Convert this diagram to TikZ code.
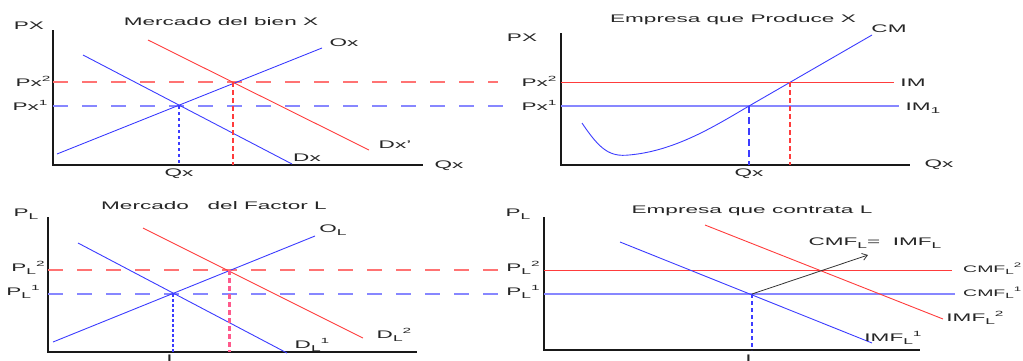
\documentclass[tikz,border=0pt]{standalone}
\usepackage{fontspec}
\setmainfont[FakeStretch=2.05]{Liberation Sans}
\usetikzlibrary{arrows.meta}
\definecolor{lblue}{RGB}{60,60,255}
\definecolor{lred}{RGB}{255,60,60}
\definecolor{dblue}{RGB}{135,135,255}
\definecolor{dred}{RGB}{255,115,115}
\definecolor{pinkc}{RGB}{255,90,140}
\newcommand\lo[1]{\lower0.5ex\hbox{\fontsize{8.5}{8.5}\selectfont #1}}
\newcommand\hi[1]{\raise0.85ex\hbox{\fontsize{7.5}{7.5}\selectfont #1}}
\newcommand\slo[1]{\lower0.5ex\hbox{\fontsize{7.5}{7.5}\selectfont #1}}
\newcommand\shi[1]{\raise0.85ex\hbox{\fontsize{6.5}{6.5}\selectfont #1}}
\begin{document}
\begin{tikzpicture}[x=1pt,y=-1pt,
  lbl/.style={inner sep=0pt, text=black!85, font=\fontsize{11}{13}\selectfont},
  smlbl/.style={inner sep=0pt, text=black!85, font=\fontsize{9.5}{11}\selectfont},
  axisline/.style={line width=2.4pt, black!90},
  curve/.style={line width=0.9pt},
  guide/.style={line width=1.1pt, dash pattern=on 15pt off 14pt},
  solidh/.style={line width=1.1pt}]
\useasboundingbox (0,0) rectangle (1023,360);

% ---------------- Top-left: Mercado del bien X
\coordinate (tlO) at (53,165);
\coordinate (tlY) at (53,30);
\coordinate (tlX) at (423,165);
\coordinate (tlE1) at (179,106);
\coordinate (tlE2) at (233,82);
\draw[axisline] (tlY) -- (tlO) -- (tlX);
\draw[guide, dred] (53,82) coordinate (tlg2a) -- (498,82) coordinate (tlg2b);
\draw[guide, dblue] (53,106) coordinate (tlg1a) -- (503,106) coordinate (tlg1b);
\draw[curve, lblue] (57,154) coordinate (oxa) -- (322,48) coordinate (oxb);
\draw[curve, lblue] (83,55) coordinate (dxa) -- (292,164) coordinate (dxb);
\draw[curve, lred] (148,40) coordinate (dxpa) -- (369,150) coordinate (dxpb);
\draw[lblue, line width=2pt, dash pattern=on 3pt off 3pt] (tlE1) -- (179,165);
\draw[lred, line width=1.6pt, dash pattern=on 5pt off 3pt] (tlE2) -- (233,165);

% ---------------- Top-right: Empresa que Produce X
\coordinate (trO) at (561,165);
\coordinate (trY) at (561,33);
\coordinate (trX) at (910,165);
\coordinate (trE1) at (749,106);
\coordinate (trE2) at (790,82);
\draw[axisline] (trY) -- (trO) -- (trX);
\draw[solidh, lred, line width=0.9pt] (561,82) coordinate (ima) -- (894,82) coordinate (imb);
\draw[solidh, dblue, line width=1.4pt] (561,106) coordinate (im1a) -- (899,106) coordinate (im1b);
\draw[curve, lblue] (582,123) .. controls (600,150) and (610,157) .. (629,155)
   .. controls (675,151) and (715,126) .. (trE1) -- (872,35) coordinate (cmb);
\draw[lblue, line width=2pt, dash pattern=on 7pt off 4pt] (trE1) -- (749,165);
\draw[lred, line width=1.6pt, dash pattern=on 5pt off 3pt] (trE2) -- (790,165);

\begin{scope}[yshift=-1pt]
% ---------------- Bottom-left: Mercado del Factor L
\coordinate (blO) at (48,351);
\coordinate (blY) at (48,216);
\coordinate (blX) at (417,351);
\coordinate (blE1) at (173,293);
\coordinate (blE2) at (229,269);
\draw[axisline] (blY) -- (blO) -- (blX);
\draw[guide, dred] (48,269) coordinate (blg2a) -- (502,269) coordinate (blg2b);
\draw[guide, dblue] (48,293) coordinate (blg1a) -- (498,293) coordinate (blg1b);
\draw[curve, lblue] (53,341) coordinate (ola) -- (315,235) coordinate (olb);
\draw[curve, lblue] (78,242) coordinate (dl1a) -- (287,352) coordinate (dl1b);
\draw[curve, lred] (143,227) coordinate (dl2a) -- (363,337) coordinate (dl2b);
\draw[lblue, line width=1.6pt, dash pattern=on 3pt off 2pt] (blE1) -- (173,351);
\draw[pinkc, line width=3pt, dash pattern=on 5pt off 3pt] (blE2) -- (229,351);

% ---------------- Bottom-right: Empresa que contrata L
\coordinate (brO) at (544,349);
\coordinate (brY) at (544,216);
\coordinate (brX) at (920,349);
\coordinate (brE1) at (752,293);
\coordinate (brTip) at (868,254);
\draw[axisline] (brY) -- (brO) -- (brX);
\draw[solidh, lred, line width=1pt] (544,269) coordinate (c2a) -- (952,269) coordinate (c2b);
\draw[solidh, dblue, line width=1.4pt] (544,293) coordinate (c1a) -- (955,293) coordinate (c1b);
\draw[curve, lred] (705,224) coordinate (i2a) -- (943,318) coordinate (i2b);
\draw[curve, lblue] (620,241) coordinate (i1a) -- (872,342) coordinate (i1b);
\draw[lblue, line width=2pt, dash pattern=on 4pt off 3pt] (brE1) -- (752,349);
\draw[black!80, line width=0.8pt, -{Straight Barb[length=5pt,width=7pt]}] (brE1) -- (brTip);
\end{scope}

% ---------------- Labels
\node[lbl] (tlPX) at (29,26) {PX};
\node[lbl] (tlT) at (221,22) {Mercado del bien X};
\node[lbl] (tlP2) at (33,81) {Px\hi{2}};
\node[lbl] (tlP1) at (30,105) {Px\hi{1}};
\node[lbl] (tlOx) at (344,43) {Ox};
\node[lbl] (tlDxp) at (395,145) {Dx'};
\node[lbl] (tlDx) at (307,158) {Dx};
\node[lbl] (tlQ) at (179,174) {Qx};
\node[lbl] (tlQx) at (449,166) {Qx};

\node[lbl] (trPX) at (522,38) {PX};
\node[lbl] (trT) at (733,20) {Empresa que Produce X};
\node[lbl] (trCM) at (889,29) {CM};
\node[lbl] (trP2) at (539,81) {Px\hi{2}};
\node[lbl] (trP1) at (539,105) {Px\hi{1}};
\node[lbl] (trIM) at (913,83) {IM};
\node[lbl] (trIM1) at (923,108) {IM\lo{1}};
\node[lbl] (trQ) at (749,174) {Qx};
\node[lbl] (trQx) at (939,165) {Qx};

\node[lbl] (blPL) at (26,214) {P\lo{L}};
\node[lbl] (blT) at (214,206) {Mercado\ \ \ del Factor L};
\node[lbl] (blP2) at (28,268) {P\lo{L}\hi{2}};
\node[lbl] (blP1) at (23,292) {P\lo{L}\hi{1}};
\node[lbl] (blOL) at (333,230) {O\lo{L}};
\node[lbl] (blDL2) at (394,335) {D\lo{L}\hi{2}};
\node[lbl] (blDL1) at (312,345) {D\lo{L}\hi{1}};
\node[lbl, anchor=north] (blL) at (173,355) {L};

\node[lbl] (brPL) at (518,214) {P\lo{L}};
\node[lbl] (brT) at (752,211) {Empresa que contrata L};
\node[lbl] (brEq) at (875,243) {CMF\lo{L}= \ IMF\lo{L}};
\node[smlbl, anchor=west] (brC2) at (963,269) {CMF\slo{L}\shi{2}};
\node[smlbl, anchor=west] (brC1) at (963,293) {CMF\slo{L}\shi{1}};
\node[lbl] (brI2) at (975,318) {IMF\lo{L}\hi{2}};
\node[lbl] (brI1) at (893,338) {IMF\lo{L}\hi{1}};
\node[lbl] (brP2) at (523,268) {P\lo{L}\hi{2}};
\node[lbl] (brP1) at (523,292) {P\lo{L}\hi{1}};
\node[lbl, anchor=north] (brL) at (752,355) {L};
\end{tikzpicture}
\end{document}
